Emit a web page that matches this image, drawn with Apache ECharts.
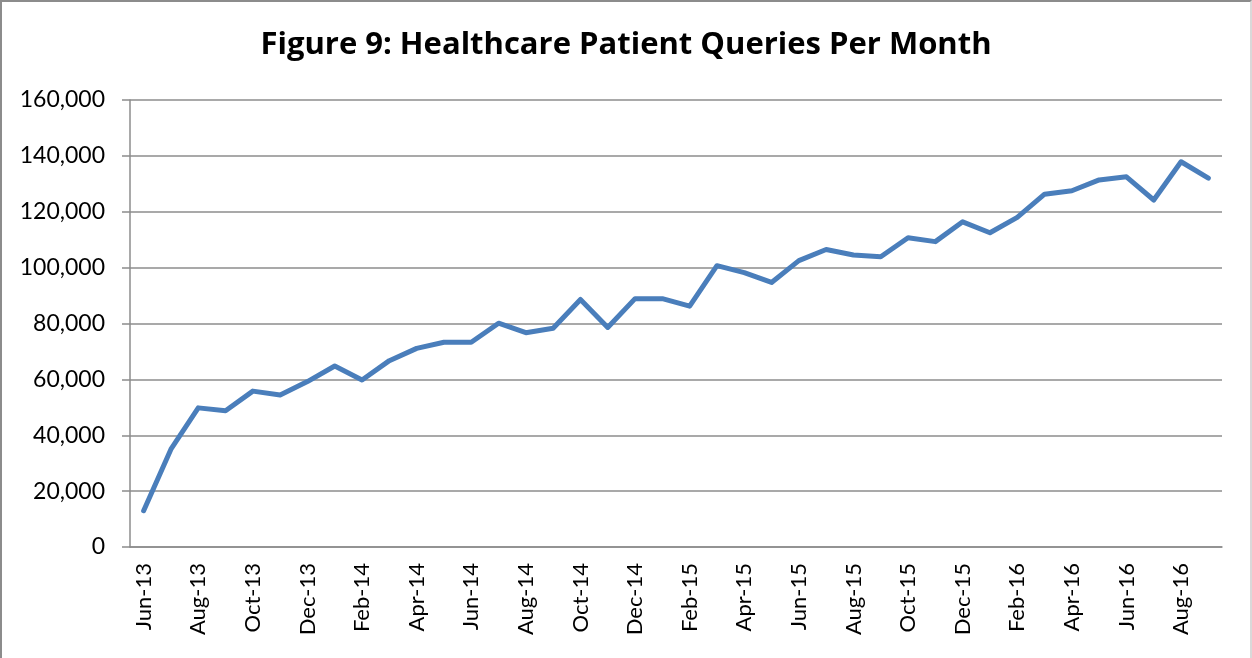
<!DOCTYPE html>
<html>
<head>
<meta charset="utf-8">
<title>Healthcare Patient Queries Per Month</title>
<script src="https://cdn.jsdelivr.net/npm/echarts@6/dist/echarts.min.js"></script>
<style>
    html, body { margin: 0; padding: 0; background: #fff; }
    #chart {
        width: 1252px;
        height: 658px;
        box-sizing: border-box;
        border-left: 2px solid #8c8c8c;
        border-top: 2px solid #8c8c8c;
        border-right: 2px solid #d9d9d9;
    }
</style>
</head>
<body>
<div id="chart"></div>
<script>
// months, Jun-13 .. Sep-16
const months = [
    "Jun-13", "Jul-13", "Aug-13", "Sep-13", "Oct-13", "Nov-13", "Dec-13",
    "Jan-14", "Feb-14", "Mar-14", "Apr-14", "May-14", "Jun-14", "Jul-14",
    "Aug-14", "Sep-14", "Oct-14", "Nov-14", "Dec-14", "Jan-15", "Feb-15",
    "Mar-15", "Apr-15", "May-15", "Jun-15", "Jul-15", "Aug-15", "Sep-15",
    "Oct-15", "Nov-15", "Dec-15", "Jan-16", "Feb-16", "Mar-16", "Apr-16",
    "May-16", "Jun-16", "Jul-16", "Aug-16", "Sep-16"
];

// patient queries per month
const queries = [
    13000, 35000, 49800, 48800, 55800, 54400, 59200,
    64800, 59800, 66700, 71100, 73300, 73300, 80100,
    76700, 78300, 88600, 78600, 88900, 88900, 86200,
    100700, 98200, 94700, 102500, 106500, 104500, 103900,
    110700, 109300, 116400, 112500, 118000, 126300, 127500,
    131400, 132500, 124200, 137900, 132000
];

const titleText = "Figure 9: Healthcare Patient Queries Per Month";

const getOption = () => {
    return {
        animation: false,
        title: {
            text: titleText,
            left: "center",
            top: 23,
            textStyle: {
                fontFamily: "Open Sans",
                fontWeight: "bold",
                fontSize: 31,
                color: "#000"
            }
        },
        grid: {
            left: 128,
            right: 28,
            top: 98,
            bottom: 111
        },
        xAxis: {
            type: "category",
            data: months,
            boundaryGap: true,
            axisLine: { lineStyle: { color: "#8c8c8c", width: 1.5 } },
            axisTick: {
                interval: 1,
                length: 8,
                lineStyle: { color: "#8c8c8c", width: 1.5 }
            },
            axisLabel: {
                interval: 1,
                rotate: 90,
                margin: 16,
                fontFamily: "Lato",
                fontSize: 22,
                color: "#000"
            }
        },
        yAxis: {
            type: "value",
            min: 0,
            max: 160000,
            interval: 20000,
            axisLine: { show: true, lineStyle: { color: "#8c8c8c", width: 1.5 } },
            axisTick: { show: true, length: 8, lineStyle: { color: "#8c8c8c", width: 1.5 } },
            splitLine: { lineStyle: { color: "#8c8c8c", width: 1.5 } },
            axisLabel: {
                margin: 25,
                fontFamily: "Lato",
                fontSize: 23,
                color: "#000",
                formatter: (v) => v.toLocaleString("en-US")
            }
        },
        series: [
            {
                type: "line",
                data: queries,
                symbol: "none",
                lineStyle: { color: "#4a7ebb", width: 5, cap: "round", join: "round" }
            }
        ]
    };
};

document.addEventListener("DOMContentLoaded", function() {
    const chart = echarts.init(document.getElementById("chart"));
    chart.setOption(getOption());
});
</script>
</body>
</html>
